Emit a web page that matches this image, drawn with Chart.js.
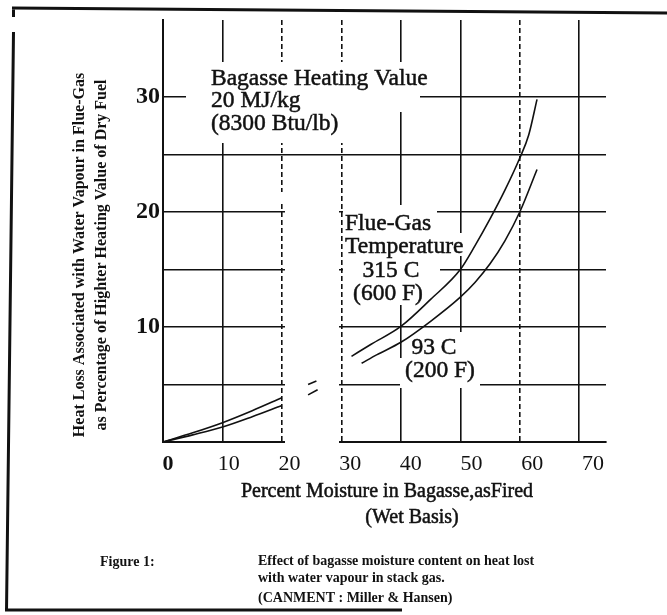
<!DOCTYPE html>
<html>
<head>
<meta charset="utf-8">
<script src="https://cdn.jsdelivr.net/npm/chart.js@4.4.0/dist/chart.umd.min.js"></script>
<style>
  html, body { margin: 0; padding: 0; background: #fff; }
  #wrap { position: relative; width: 667px; height: 615px; }
</style>
</head>
<body>
<div id="wrap"><canvas id="myChart" width="667" height="615"></canvas></div>
<script>
// values (null = gap in the scan)
const moistureHot = [0, 5, 10, 15, 20, 22, 24.4, 25.8, 28, 31.7, 35, 40, 45, 50, 52.5, 55, 57.5, 60, 61.5, 62.9];
const lossHot     = [0, 0.8, 1.68, 2.72, 3.85, null, 5.0, 5.3, null, 7.45, 8.5, 10.05, 12.4, 15.0, 17.1, 19.4, 21.9, 24.7, 26.7, 29.8];

const moistureCool = [0, 5, 10, 15, 20, 22, 24.4, 26, 29, 33.4, 36, 40, 45, 50, 52.5, 55, 57.5, 60, 62.9];
const lossCool     = [0, 0.62, 1.3, 2.2, 3.18, null, 4.1, 4.55, null, 6.85, 7.6, 8.67, 10.5, 12.6, 13.9, 15.5, 17.5, 20.0, 23.7];

const xTickValues = [0, 10, 20, 30, 40, 50, 60, 70];
const yTickValues = [0, 5, 10, 15, 20, 25, 30];
const yLabelValues = [10, 20, 30];

const yTitle = [
  "Heat Loss Associated with Water Vapour in Flue-Gas",
  "as Percentage of Highter Heating Value of Dry Fuel"
];
const xTitle = ["Percent Moisture in Bagasse,asFired", "(Wet Basis)"];

const serif = '"Liberation Serif", "Times New Roman", serif';
const ink = '#111';

const toPoints = (xs, ys) => xs.map((m, i) => ({ x: m, y: ys[i] }));

// white boxes where the scan has no grid (behind the labels, and the dropout band)
const masks = [
  [186, 62, 420, 90], [186, 90, 420, 112], [186, 112, 360, 143],
  [343, 205, 437, 233], [343, 233, 467, 256], [343, 256, 440, 280], [343, 280, 430, 305],
  [405, 332, 462, 358], [400, 358, 480, 388],
  [285, 205, 339, 446], [271, 192, 305, 204]
];

const notes = [
  { t: "Bagasse Heating Value", x: 211, y: 85, a: "left" },
  { t: "20 MJ/kg", x: 211, y: 107, a: "left" },
  { t: "(8300 Btu/lb)", x: 211, y: 130, a: "left" },
  { t: "Flue-Gas", x: 345, y: 230, a: "left" },
  { t: "Temperature", x: 345, y: 253, a: "left" },
  { t: "315 C", x: 391, y: 277, a: "center" },
  { t: "(600 F)", x: 388, y: 300, a: "center" },
  { t: "93 C", x: 434, y: 354, a: "center" },
  { t: "(200 F)", x: 440, y: 377, a: "center" }
];

// fill plus a hairline stroke, the scan prints heavy
function heavyText(ctx, t, x, y) {
  ctx.fillText(t, x, y);
  ctx.strokeText(t, x, y);
}

const figureText = {
  id: 'figureText',
  beforeDatasetsDraw(chart) {
    const ctx = chart.ctx;
    ctx.save();
    ctx.fillStyle = '#fff';
    masks.forEach(r => ctx.fillRect(r[0], r[1], r[2] - r[0], r[3] - r[1]));

    ctx.fillStyle = ink;
    ctx.strokeStyle = ink;
    ctx.lineWidth = 0.5;
    ctx.textBaseline = 'alphabetic';
    ctx.font = '23.5px ' + serif;
    notes.forEach(n => {
      ctx.textAlign = n.a;
      heavyText(ctx, n.t, n.x, n.y);
    });

    // axis titles
    ctx.textAlign = 'center';
    ctx.font = '20px ' + serif;
    heavyText(ctx, xTitle[0], 387, 497);
    heavyText(ctx, xTitle[1], 412, 523);

    ctx.font = 'bold 16px ' + serif;
    ctx.textBaseline = 'middle';
    [80, 102].forEach((cx, i) => {
      ctx.save();
      ctx.translate(cx, 255);
      ctx.rotate(-Math.PI / 2);
      ctx.fillText(yTitle[i], 0, 0);
      ctx.restore();
    });

    // caption
    ctx.textBaseline = 'alphabetic';
    ctx.textAlign = 'left';
    ctx.font = 'bold 14px ' + serif;
    ctx.fillText("Figure 1:", 100, 566);
    ctx.fillText("Effect of bagasse moisture content on heat lost", 258, 565);
    ctx.fillText("with water vapour in stack gas.", 258, 582);
    ctx.fillText("(CANMENT : Miller & Hansen)", 258, 602);
    ctx.restore();
  },
  afterDraw(chart) {
    // frame of the scanned page
    const ctx = chart.ctx;
    ctx.save();
    ctx.strokeStyle = ink;
    ctx.lineWidth = 3;
    ctx.beginPath();
    ctx.moveTo(12, 8); ctx.lineTo(667, 13);
    ctx.moveTo(13.5, 8); ctx.lineTo(13.5, 17);
    ctx.moveTo(13.5, 32); ctx.lineTo(6.5, 611);
    ctx.moveTo(5, 610); ctx.lineTo(402, 610);
    ctx.stroke();
    ctx.restore();
  }
};

const gridStyle = { color: ink, lineWidth: 1.6, drawTicks: false };

new Chart(document.getElementById('myChart'), {
  type: 'scatter',
  data: {
    datasets: [
      {
        label: '315 C (600 F)',
        data: toPoints(moistureHot, lossHot),
        showLine: true,
        borderColor: ink,
        borderWidth: 1.6,
        pointRadius: 0,
        cubicInterpolationMode: 'monotone',
        spanGaps: false
      },
      {
        label: '93 C (200 F)',
        data: toPoints(moistureCool, lossCool),
        showLine: true,
        borderColor: ink,
        borderWidth: 1.6,
        pointRadius: 0,
        cubicInterpolationMode: 'monotone',
        spanGaps: false
      }
    ]
  },
  options: {
    responsive: false,
    animation: false,
    devicePixelRatio: 1,
    layout: { padding: { left: 0, top: 20, right: 61, bottom: 133 } },
    plugins: { legend: { display: false }, tooltip: { enabled: false } },
    scales: {
      x: {
        type: 'linear', min: 0, max: 74.5, weight: 0,
        afterBuildTicks: s => { s.ticks = xTickValues.map(v => ({ value: v })); },
        afterFit: s => { s.height = 0; },
        ticks: { display: false },
        grid: gridStyle,
        border: {
          color: ink, width: 2,
          dash: c => (c.tick && [20, 30, 60].includes(c.tick.value)) ? [5, 3] : []
        }
      },
      // tick labels of the scan sit a little off the grid lines
      xl: {
        type: 'linear', position: 'bottom', weight: 1, min: -0.823, max: 72.14,
        afterBuildTicks: s => { s.ticks = xTickValues.map(v => ({ value: v })); },
        afterFit: s => { s.height = 40; },
        grid: { display: false },
        border: { display: false },
        ticks: {
          padding: 1,
          color: ink,
          font: c => ({ family: serif, size: 22, weight: (c.tick && c.tick.value === 0) ? 'bold' : 'normal' })
        }
      },
      y: {
        type: 'linear', min: 0, max: 36.7,
        afterBuildTicks: s => { s.ticks = yTickValues.map(v => ({ value: v })); },
        afterFit: s => { s.width = 163; },
        ticks: {
          callback: v => yLabelValues.includes(v) ? String(v) : '',
          font: { family: serif, size: 24, weight: 'bold' },
          color: ink,
          padding: 3
        },
        grid: gridStyle,
        border: { color: ink, width: 2 }
      }
    }
  },
  plugins: [figureText]
});
</script>
</body>
</html>
